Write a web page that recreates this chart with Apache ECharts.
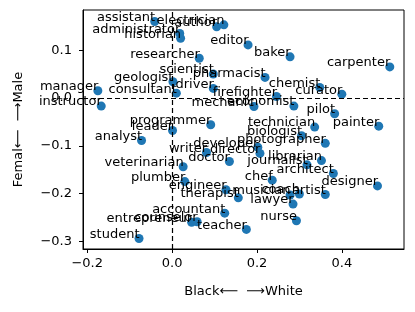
<!DOCTYPE html>
<html><head><meta charset="utf-8">
<script src="https://cdn.jsdelivr.net/npm/echarts@6/dist/echarts.min.js"></script>
<style>html,body{margin:0;padding:0;background:#fff}#c{width:415px;height:312px}</style>
</head><body><div id="c"></div>
<script>
const occupations = ["assistant","electrician","author","administrator","historian","editor","baker","researcher","carpenter","scientist","pharmacist","geologist","chemist","driver","manager","consultant","curator","firefighter","instructor","mechanic","economist","pilot","painter","programmer","technician","leader","biologist","analyst","photographer","developer","writer","director","librarian","doctor","journalist","veterinarian","architect","chef","plumber","designer","engineer","coach","musician","artist","therapist","lawyer","accountant","nurse","entrepreneur","counselor","teacher","student"];
const xValues = [-0.041,0.122,0.105,0.018,0.020,0.179,0.278,0.064,0.513,0.097,0.219,0.002,0.348,0.097,-0.175,0.010,0.400,0.246,-0.167,0.193,0.287,0.383,0.487,0.091,0.336,0.001,0.305,-0.072,0.361,0.202,0.081,0.207,0.352,0.135,0.318,0.026,0.380,0.236,0.030,0.484,0.127,0.300,0.278,0.361,0.156,0.285,0.124,0.293,0.046,0.059,0.175,-0.078];
const yValues = [0.160,0.153,0.149,0.135,0.125,0.111,0.086,0.083,0.065,0.050,0.043,0.034,0.022,0.020,0.015,0.010,0.008,0.003,-0.017,-0.018,-0.017,-0.033,-0.059,-0.056,-0.061,-0.068,-0.079,-0.089,-0.095,-0.103,-0.114,-0.116,-0.131,-0.133,-0.140,-0.144,-0.158,-0.172,-0.175,-0.184,-0.192,-0.201,-0.203,-0.202,-0.209,-0.222,-0.241,-0.257,-0.260,-0.259,-0.275,-0.294];
const xTicks = [-0.2, 0.0, 0.2, 0.4];
const yTicks = [-0.3, -0.2, -0.1, 0.0, 0.1];
const xName = "Black\u27F5  \u27F6White";
const yName = "Femal\u27F5  \u27F6Male";

const font = "DejaVu Sans";
const fmt = v => (v < 0 ? "\u2212" : "") + Math.abs(v).toFixed(1);
const chart = echarts.init(document.getElementById('c'), null, {renderer: 'canvas'});
const data = occupations.map((n, i) => ({name: n, value: [xValues[i], yValues[i]]}));
chart.setOption({
  animation: false,
  backgroundColor: '#fff',
  grid: {left: 83, right: 11, top: 10, bottom: 63, show: true, borderColor: '#000', borderWidth: 1, backgroundColor: 'transparent', containLabel: false},
  xAxis: {
    type: 'value', min: -0.21, max: 0.5465,
    name: xName, nameLocation: 'middle', nameGap: 36,
    nameTextStyle: {fontFamily: font, fontSize: 13, color: '#000'},
    axisLine: {show: true, onZero: false, lineStyle: {color: '#000', width: 1}},
    axisTick: {show: true, inside: false, length: 4, customValues: xTicks, lineStyle: {color: '#000'}},
    axisLabel: {customValues: xTicks, formatter: fmt, margin: 8, fontFamily: font, fontSize: 13, color: '#000'},
    splitLine: {show: false}
  },
  yAxis: {
    type: 'value', min: -0.316, max: 0.184,
    name: yName, nameLocation: 'middle', nameGap: 58, nameRotate: 90,
    nameTextStyle: {fontFamily: font, fontSize: 13, color: '#000'},
    axisLine: {show: true, onZero: false, lineStyle: {color: '#000', width: 1}},
    axisTick: {show: true, inside: false, length: 4, customValues: yTicks, lineStyle: {color: '#000'}},
    axisLabel: {customValues: yTicks, formatter: fmt, margin: 11, fontFamily: font, fontSize: 13, color: '#000'},
    splitLine: {show: false}
  },
  series: [{
    type: 'scatter',
    data: data,
    symbolSize: 9,
    itemStyle: {color: '#1f77b4', opacity: 1},
    label: {
      show: true, formatter: p => p.name,
      position: 'left', distance: -5, offset: [0, -4],
      fontFamily: font, fontSize: 13, color: '#000'
    },
    emphasis: {disabled: true},
    markLine: {
      silent: true, symbol: 'none', animation: false,
      label: {show: false},
      lineStyle: {color: '#000', type: [5, 3], width: 1.2},
      data: [{xAxis: 0}, {yAxis: 0}]
    }
  }]
});
</script>
</body></html>
